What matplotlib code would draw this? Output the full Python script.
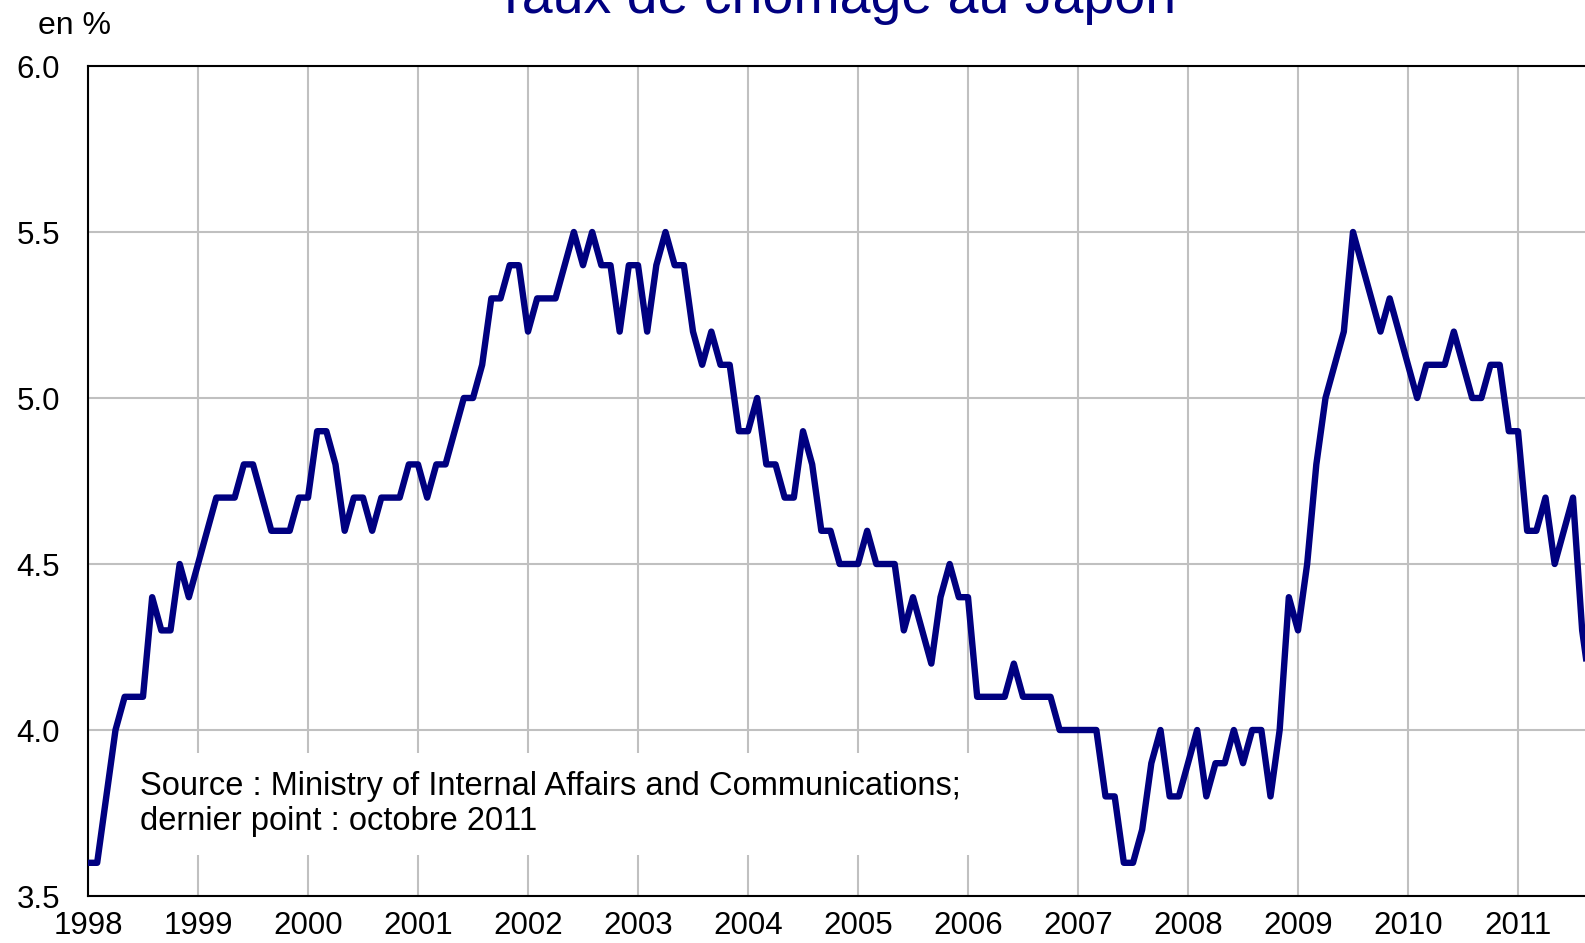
import numpy as np
from matplotlib import pyplot as plt

plt.rcParams['font.family'] = ['Liberation Sans', 'DejaVu Sans']

# taux de chomage mensuel, janvier 1998 -> octobre 2011
taux_1998 = [3.6, 3.6, 3.8, 4.0, 4.1, 4.1, 4.1, 4.4, 4.3, 4.3, 4.5, 4.4]
taux_1999 = [4.5, 4.6, 4.7, 4.7, 4.7, 4.8, 4.8, 4.7, 4.6, 4.6, 4.6, 4.7]
taux_2000 = [4.7, 4.9, 4.9, 4.8, 4.6, 4.7, 4.7, 4.6, 4.7, 4.7, 4.7, 4.8]
taux_2001 = [4.8, 4.7, 4.8, 4.8, 4.9, 5.0, 5.0, 5.1, 5.3, 5.3, 5.4, 5.4]
taux_2002 = [5.2, 5.3, 5.3, 5.3, 5.4, 5.5, 5.4, 5.5, 5.4, 5.4, 5.2, 5.4]
taux_2003 = [5.4, 5.2, 5.4, 5.5, 5.4, 5.4, 5.2, 5.1, 5.2, 5.1, 5.1, 4.9]
taux_2004 = [4.9, 5.0, 4.8, 4.8, 4.7, 4.7, 4.9, 4.8, 4.6, 4.6, 4.5, 4.5]
taux_2005 = [4.5, 4.6, 4.5, 4.5, 4.5, 4.3, 4.4, 4.3, 4.2, 4.4, 4.5, 4.4]
taux_2006 = [4.4, 4.1, 4.1, 4.1, 4.1, 4.2, 4.1, 4.1, 4.1, 4.1, 4.0, 4.0]
taux_2007 = [4.0, 4.0, 4.0, 3.8, 3.8, 3.6, 3.6, 3.7, 3.9, 4.0, 3.8, 3.8]
taux_2008 = [3.9, 4.0, 3.8, 3.9, 3.9, 4.0, 3.9, 4.0, 4.0, 3.8, 4.0, 4.4]
taux_2009 = [4.3, 4.5, 4.8, 5.0, 5.1, 5.2, 5.5, 5.4, 5.3, 5.2, 5.3, 5.2]
taux_2010 = [5.1, 5.0, 5.1, 5.1, 5.1, 5.2, 5.1, 5.0, 5.0, 5.1, 5.1, 4.9]
taux_2011 = [4.9, 4.6, 4.6, 4.7, 4.5, 4.6, 4.7, 4.3, 4.1, 4.5]

annees = list(range(1998, 2012))
y_ticks = [3.5, 4.0, 4.5, 5.0, 5.5, 6.0]

taux = (taux_1998 + taux_1999 + taux_2000 + taux_2001 + taux_2002 + taux_2003
        + taux_2004 + taux_2005 + taux_2006 + taux_2007 + taux_2008 + taux_2009
        + taux_2010 + taux_2011)
dates = 1998 + np.arange(len(taux)) / 12

W, H = 1585, 943
fig = plt.figure(figsize=(W / 100, H / 100), dpi=100)
# l'axe depasse a droite de l'image, comme sur l'original
ax = fig.add_axes([88 / W, 47 / H, 1540 / W, 830 / H])

ax.plot(dates, taux, color='#000080', lw=4.6, solid_joinstyle='round', zorder=3)

ax.set_xlim(1998, 2012)
ax.set_ylim(3.5, 6.0)
ax.set_xticks(annees)
ax.set_yticks(y_ticks)
ax.set_yticklabels(['%.1f' % v for v in y_ticks])
ax.grid(True, color='#c0c0c0', lw=1.5)
ax.set_axisbelow(True)
ax.tick_params(length=0, labelsize=22.5, colors='black')
ax.tick_params(axis='y', pad=20)
ax.tick_params(axis='x', pad=11)
for s in ['left', 'bottom', 'top']:
    ax.spines[s].set_linewidth(1.5)
    ax.spines[s].set_color('black')
ax.spines['right'].set_visible(False)

fig.text(835 / W, 1 - 13 / H, 'Taux de chômage au Japon', color='#000080',
         fontsize=40, ha='center', va='baseline')
fig.text(38 / W, 1 - 34 / H, 'en %', fontsize=23, va='baseline')
fig.text(139.5 / W, 1 - 771 / H,
         'Source : Ministry of Internal Affairs and Communications;\ndernier point : octobre 2011',
         fontsize=23.5, va='top', linespacing=1.15,
         bbox=dict(facecolor='white', edgecolor='none', boxstyle='square,pad=0.55'))

fig.savefig('out.png', dpi=100)
